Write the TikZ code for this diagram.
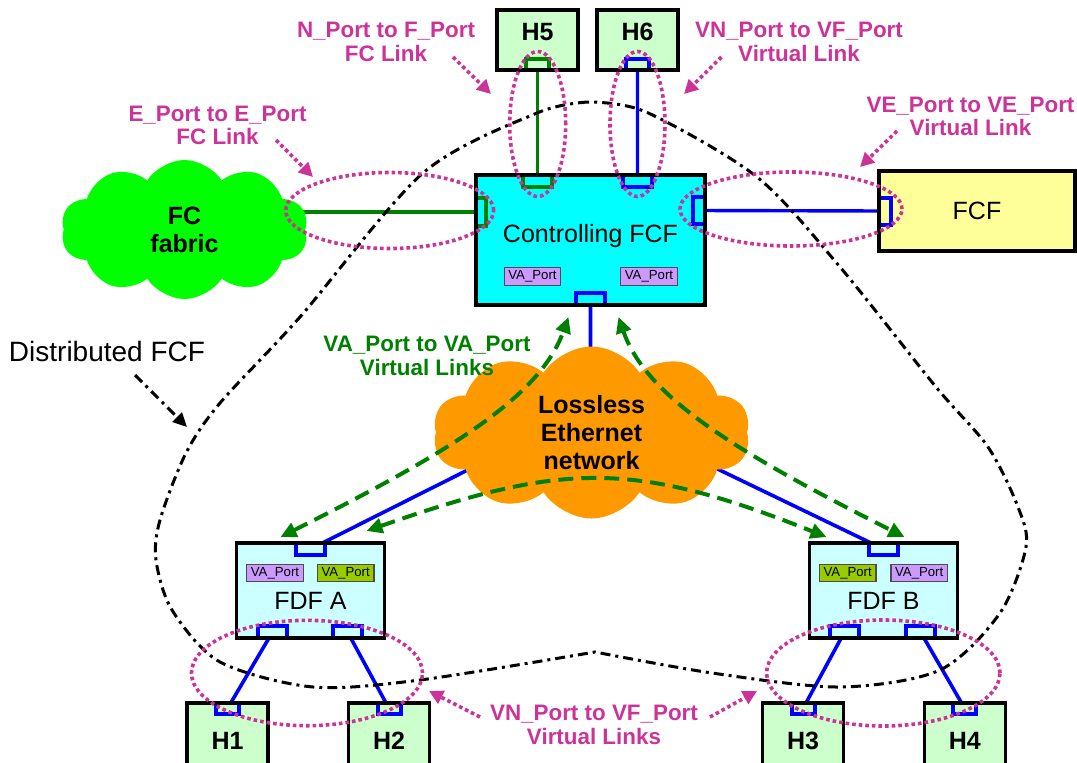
\documentclass[tikz,border=0pt]{standalone}
\usepackage{fontspec}
\setmainfont{Liberation Sans}
\usetikzlibrary{shapes.symbols,arrows.meta,backgrounds}
\definecolor{hostgreen}{RGB}{204,255,204}
\definecolor{fdfcyan}{RGB}{204,255,255}
\definecolor{fcfcyan}{RGB}{0,255,255}
\definecolor{fcfyellow}{RGB}{255,255,153}
\definecolor{fabricgreen}{RGB}{0,255,0}
\definecolor{linkgreen}{RGB}{0,128,0}
\definecolor{linkblue}{RGB}{0,0,255}
\definecolor{ringpink}{RGB}{204,51,153}
\definecolor{vapurple}{RGB}{204,153,255}
\definecolor{vaolive}{RGB}{153,204,0}
\definecolor{lanorange}{RGB}{255,153,0}
\begin{document}
\begin{tikzpicture}[x=0.5pt,y=-0.5pt,
    box/.style={draw,line width=1.7pt,inner sep=0pt,outer sep=0pt,font=\fontsize{12.5}{14}\selectfont},
    host/.style={box,fill=hostgreen,minimum width=40.5pt,font=\bfseries\fontsize{12.5}{14}\selectfont},
    fdf/.style={box,fill=fdfcyan,minimum width=74pt,minimum height=47.5pt,text height=18.5pt,text depth=0pt},
    port/.style={draw,line width=2pt,inner sep=0pt,outer sep=0pt,minimum width=14.5pt,minimum height=6pt},
    hport/.style={port,minimum width=11.5pt,minimum height=5.5pt},
    sport/.style={port,minimum width=6pt,minimum height=13.5pt},
    tag/.style={draw=black!70,line width=0.6pt,inner sep=0pt,minimum width=28.3pt,minimum height=8.8pt,font=\fontsize{6.6}{7}\selectfont},
    cloudy/.style={cloud,cloud puffs=10,cloud puff arc=115,aspect=1.8,inner sep=0pt,align=center,font=\bfseries\fontsize{12.5}{14}\selectfont},
    note/.style={text=ringpink,align=center,font=\bfseries\fontsize{11.2}{11.7}\selectfont},
    ring/.style={ringpink,line width=1.8pt,dash pattern=on 1.8pt off 1.5pt},
    pinkarrow/.style={ring,-{Triangle[length=7pt,width=7pt]}},
    valink/.style={linkgreen,line width=2pt,dash pattern=on 7.5pt off 4pt,{Triangle[length=8pt,width=7.5pt]}-{Triangle[length=8pt,width=7.5pt]}},
    dashdot/.style={line width=1.5pt,dash pattern=on 5pt off 2.5pt on 1.5pt off 2.5pt}]
    \useasboundingbox (0,0) rectangle (1077,762);
    \clip (0,0) rectangle (1077,762);
    \node[host,minimum height=30pt,text height=9pt,text depth=8.5pt] (h5) at (537.5,40) {H5};
    \node[host,minimum height=30pt,text height=9pt,text depth=8.5pt] (h6) at (637.5,40) {H6};
    \node[box,fill=fcfcyan,minimum width=114.5pt,minimum height=65pt,text height=9pt,text depth=7pt] (cf) at (590.5,240) {Controlling FCF};
    \node[box,fill=fcfyellow,minimum width=98pt,minimum height=40pt] (fcf) at (977,211) {FCF};
    \node[fdf] (fdfa) at (310.5,590.5) {FDF A};
    \node[fdf] (fdfb) at (883.5,590.5) {FDF B};
    \foreach \n/\x in {1/227.5,2/389,3/803,4/964.75}
        \node[host,minimum height=38pt] (h\n) at (\x,741) {H\n};
    \node[cloudy,fill=fabricgreen,minimum width=123.5pt,minimum height=69.5pt] (fc) at (184.5,229.5) {FC\\fabric};
    \node[cloudy,fill=lanorange,minimum width=158.5pt,minimum height=86pt] (eth) at (591.5,432.5) {Lossless\\Ethernet\\network};
    \coordinate (hub) at (591,408);
    \node[tag,fill=vapurple] (cfva1) at (532.5,276.5) {VA\_Port};
    \node[tag,fill=vapurple] (cfva2) at (649,276.5) {VA\_Port};
    \node[tag,fill=vapurple] (fava1) at (275,573) {VA\_Port};
    \node[tag,fill=vaolive] (fava2) at (345.7,573) {VA\_Port};
    \node[tag,fill=vaolive] (fbva1) at (847.7,573) {VA\_Port};
    \node[tag,fill=vapurple] (fbva2) at (919.2,573) {VA\_Port};
    \node[hport,draw=linkgreen,anchor=south] (h5p) at (h5.south) {};
    \node[hport,draw=linkblue,anchor=south] (h6p) at (h6.south) {};
    \node[port,draw=linkgreen,anchor=north] (cft1) at ([xshift=-26.5pt]cf.north) {};
    \node[port,draw=linkblue,anchor=north] (cft2) at ([xshift=23.5pt]cf.north) {};
    \node[sport,draw=linkgreen,anchor=west,minimum width=5pt,minimum height=14pt] (cfl) at ([yshift=14pt]cf.west) {};
    \node[sport,draw=linkblue,anchor=east] (cfr) at ([yshift=14.75pt]cf.east) {};
    \node[port,draw=linkblue,anchor=south] (cfb) at (cf.south) {};
    \node[sport,draw=linkblue,anchor=west] (fcfp) at (fcf.west) {};
    \node[port,draw=linkblue,anchor=north] (fat) at (fdfa.north) {};
    \node[port,draw=linkblue,anchor=south] (fa1) at ([xshift=-19pt]fdfa.south) {};
    \node[port,draw=linkblue,anchor=south] (fa2) at ([xshift=18.5pt]fdfa.south) {};
    \node[port,draw=linkblue,anchor=north] (fbt) at (fdfb.north) {};
    \node[port,draw=linkblue,anchor=south] (fb1) at ([xshift=-19.5pt]fdfb.south) {};
    \node[port,draw=linkblue,anchor=south] (fb2) at ([xshift=18.5pt]fdfb.south) {};
    \foreach \n in {1,...,4}
        \node[hport,draw=linkblue,anchor=north] (hp\n) at (h\n.north) {};
    \foreach \b in {h1,h2,h3,h4,h5,h6,cf,fcf,fdfa,fdfb}
        \draw[line width=1.7pt] (\b.south west) rectangle (\b.north east);
    \begin{scope}[on background layer]
        \draw[linkgreen,line width=1.7pt] (h5p) -- (cft1) (cfl) -- (cfl -| fc);
        \draw[linkblue,line width=1.7pt] (h6p) -- (cft2) (cfr) -- (fcfp);
        \draw[linkblue,line width=1.8pt] (cfb) -- (cfb |- eth) (fat) -- (hub) -- (fbt)
            (fa1) -- (hp1) (fa2) -- (hp2) (fb1) -- (hp3) (fb2) -- (hp4);
    \end{scope}
    \coordinate (vaA1) at ([xshift=-15pt,yshift=3pt]fdfa.north);
    \coordinate (vaA2) at ([xshift=28pt,yshift=6pt]fdfa.north);
    \coordinate (vaB1) at ([xshift=-28.5pt,yshift=3pt]fdfb.north);
    \coordinate (vaB2) at ([xshift=10.5pt,yshift=3pt]fdfb.north);
    \coordinate (vaC1) at ([xshift=-11pt,yshift=-6pt]cf.south);
    \coordinate (vaC2) at ([xshift=14pt,yshift=-6pt]cf.south);
    \draw[valink] (vaA1) .. controls (450,452) and (540,397) .. (vaC1);
    \draw[valink] (vaC2) .. controls (646,397) and (736,452) .. (vaB2);
    \draw[valink] (vaA2) .. controls (561,463) and (631,459) .. (vaB1);
    \node[note,text=linkgreen] (valab) at (427,356) {VA\_Port to VA\_Port\\Virtual Links};
    \node[note] (elab) at (217.5,125.5) {E\_Port to E\_Port\\FC Link};
    \node[note] (nlab) at (386,42) {N\_Port to F\_Port\\FC Link};
    \node[note] (vnlab) at (799,42) {VN\_Port to VF\_Port\\Virtual Link};
    \node[note] (velab) at (970.5,116.5) {VE\_Port to VE\_Port\\Virtual Link};
    \node[note] (vnslab) at (594,725) {VN\_Port to VF\_Port\\Virtual Links};
    \node[font=\fontsize{14}{16}\selectfont] (dlab) at (107,351) {Distributed FCF};
    \draw[dashdot] plot[smooth] coordinates {(588,102) (537,113) (423,173) (300,317) (220,403) (186,453) (160,520) (156,560) (172,610) (220,662) (313,687) (420,680) (595,652)}
        -- plot[smooth] coordinates {(595,652) (712,673) (840,687) (940,670) (1000,613) (1026,547) (1018,507) (988,447) (936,387) (840,267) (757,177) (646,112) (588,102)};
    \coordinate (dtail) at (135,375);
    \coordinate (dtip) at (187,427);
    \draw[dashdot,-{Triangle[length=7pt,width=6.5pt]}] (dtail) -- (dtip);
    \draw[ring] (389.7,210.5) ellipse [x radius=52pt,y radius=19pt];
    \draw[ring] (537.7,124) ellipse [x radius=14pt,y radius=36.25pt];
    \draw[ring] (637.5,124) ellipse [x radius=13.75pt,y radius=36.25pt];
    \draw[ring] (791,209) ellipse [x radius=55.5pt,y radius=18.5pt];
    \draw[ring] (307,673) ellipse [x radius=57.75pt,y radius=26.35pt];
    \draw[ring] (883.3,673) ellipse [x radius=58.35pt,y radius=26.5pt];
    \coordinate (eTail) at (276,140);   \coordinate (eTip) at (313,177);
    \coordinate (nTail) at (453,57);    \coordinate (nTip) at (491,94);
    \coordinate (vnTail) at (721.5,57); \coordinate (vnTip) at (684,94);
    \coordinate (veTail) at (897,131);  \coordinate (veTip) at (860,167);
    \coordinate (aTail) at (480,717);   \coordinate (aTip) at (429,691);
    \coordinate (bTail) at (710,717);   \coordinate (bTip) at (757,691);
    \foreach \s in {e,n,vn,ve,a,b}
        \draw[pinkarrow] (\s Tail) -- (\s Tip);
\end{tikzpicture}
\end{document}
